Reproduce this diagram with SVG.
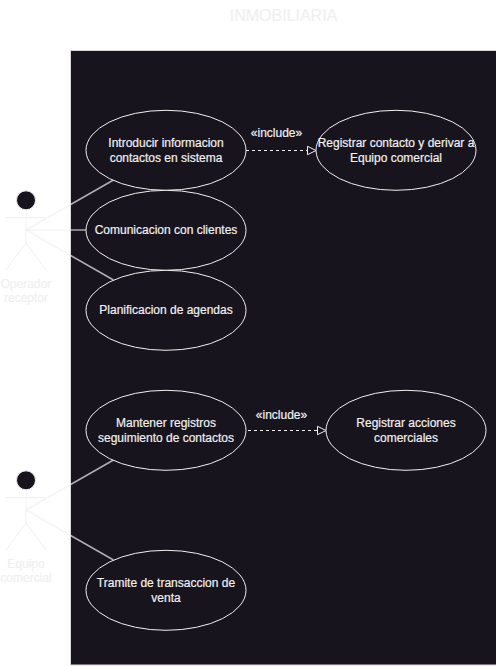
<svg xmlns="http://www.w3.org/2000/svg" width="496" height="666" viewBox="0 0 496 666">
<style>
text{font-family:"Liberation Sans",Arial,sans-serif;font-size:12px;text-anchor:middle;fill:#f0f0f0;stroke:#f0f0f0;stroke-width:.2px}
.u ellipse{fill:#18141d;stroke:#f0f0f0;stroke-width:1}
.a circle{fill:#18141d;stroke:#f0f0f0;stroke-width:1}
.a path{fill:none;stroke:#f0f0f0;stroke-width:1}
.c path{fill:none;stroke:#f0f0f0;stroke-width:1}
.c .g{stroke-width:1.6;stroke-opacity:.7}
.c .d{stroke-dasharray:3 3}
</style>
<defs><marker id="tri" markerUnits="userSpaceOnUse" markerWidth="12" markerHeight="12" refX="9" refY="5" orient="auto" overflow="visible"><path d="M0.5 0.8L9 5L0.5 9.2Z" fill="#18141d" stroke="#f0f0f0" stroke-width="1" stroke-dasharray="none"/></marker></defs>
<rect width="496" height="666" fill="#fff"/>
<text id="title" x="283.500" y="21" style="font-size:16px">INMOBILIARIA</text>
<rect id="system" x="70.500" y="50.500" width="430" height="614.500" fill="#18141d" stroke="#d8d8d8"/>
<g id="connectors" class="c">
<path class="g" d="M26 230L113.500 180"/><path d="M26 230H86"/><path class="g" d="M26 230L113.500 280"/>
<path class="g" d="M26 510L113.500 460"/><path class="g" d="M26 510L113.500 560"/>
<path class="d" d="M246 150.500H316" marker-end="url(#tri)"/>
<path class="d" d="M248 430.500H326" marker-end="url(#tri)"/>
<text x="276.500" y="137">«include»</text>
<text x="281.500" y="419">«include»</text>
</g>
<g id="actor1" class="a"><circle cx="26" cy="200.300" r="9.500"/><path d="M26 210V243M6 217.500H46M26 243L6 270M26 243L46 270"/><text x="26" y="288">Operador</text><text x="26" y="302">receptor</text></g>
<g id="actor2" class="a"><circle cx="26" cy="480.300" r="9.500"/><path d="M26 490V523M6 497.500H46M26 523L6 550M26 523L46 550"/><text x="26" y="568">Equipo</text><text x="26" y="582">comercial</text></g>
<g id="uc1" class="u"><ellipse cx="166" cy="150.300" rx="80" ry="40"/><text x="166" y="147">Introducir informacion</text><text x="166" y="162">contactos en sistema</text></g>
<g id="uc2" class="u"><ellipse cx="166" cy="230.300" rx="80" ry="40"/><text x="166" y="234">Comunicacion con clientes</text></g>
<g id="uc3" class="u"><ellipse cx="166" cy="310.300" rx="80" ry="40"/><text x="166" y="314">Planificacion de agendas</text></g>
<g id="uc4" class="u"><ellipse cx="396" cy="150.300" rx="80" ry="40"/><text x="396" y="147">Registrar contacto y derivar a</text><text x="396" y="162">Equipo comercial</text></g>
<g id="uc5" class="u"><ellipse cx="166" cy="430.300" rx="80" ry="40"/><text x="166" y="427">Mantener registros</text><text x="166" y="442">seguimiento de contactos</text></g>
<g id="uc6" class="u"><ellipse cx="406" cy="430.300" rx="80" ry="40"/><text x="406" y="427">Registrar acciones</text><text x="406" y="442">comerciales</text></g>
<g id="uc7" class="u"><ellipse cx="166" cy="590.300" rx="80" ry="40"/><text x="166" y="587">Tramite de transaccion de</text><text x="166" y="602">venta</text></g>
</svg>
